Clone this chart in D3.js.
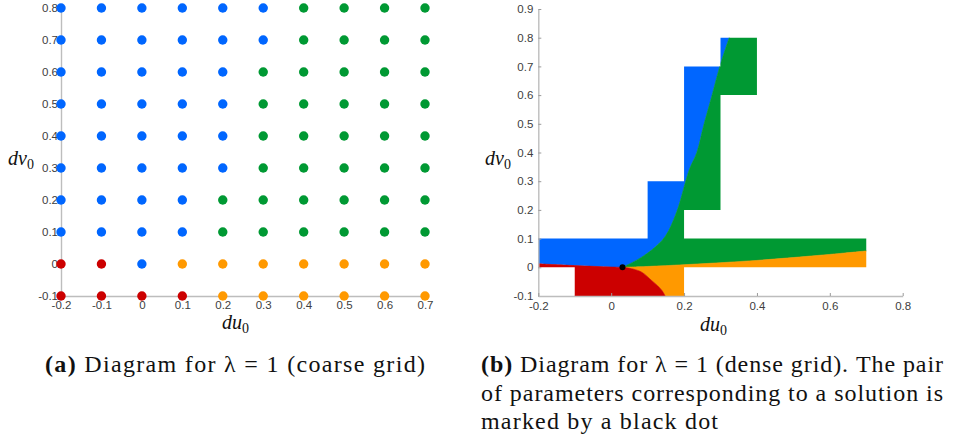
<!DOCTYPE html>
<html>
<head>
<meta charset="utf-8">
<script src="https://cdn.jsdelivr.net/npm/d3@7"></script>
<style>
  body { margin: 0; background: #fff; }
</style>
</head>
<body>
<div id="chart"></div>
<script>
// Data
const duValues = [-0.2, -0.1, 0, 0.1, 0.2, 0.3, 0.4, 0.5, 0.6, 0.7]
const dvValues = [0.8, 0.7, 0.6, 0.5, 0.4, 0.3, 0.2, 0.1, 0, -0.1]
// outcome of each coarse grid point, one string per dv row (B blue, G green, R red, O orange)
const coarseClasses = [
  'BBBBBBGGGG',
  'BBBBBBGGGG',
  'BBBBBGGGGG',
  'BBBBBGGGGG',
  'BBBBBGGGGG',
  'BBBBBGGGGG',
  'BBBBGGGGGG',
  'BBBBGGGGGG',
  'RRBOOOOOOO',
  'RRRROOOOOO',
]
const leftXTicks = [-0.2, -0.1, 0, 0.1, 0.2, 0.3, 0.4, 0.5, 0.6, 0.7]
const leftYTicks = [-0.1, 0, 0.1, 0.2, 0.3, 0.4, 0.5, 0.6, 0.7, 0.8]
const rightXTicks = [-0.2, 0, 0.2, 0.4, 0.6, 0.8]
const rightYTicks = [-0.1, 0, 0.1, 0.2, 0.3, 0.4, 0.5, 0.6, 0.7, 0.8, 0.9]

// dense grid: sampled rectangles [du0, du1, dv0, dv1]
const denseRects = [
  [-0.2, 0.7, 0, 0.1],
  [-0.1, 0.2, -0.1, 0],
  [0.1, 0.2, 0.1, 0.3],
  [0.2, 0.3, 0.2, 0.7],
  [0.3, 0.4, 0.6, 0.8],
]
// region boundaries, [du, dv]
const redBlueEdge = [[-0.2, 0.012], [-0.1, 0.006], [0, 0.001], [0.031, 0]]
const blueGreenEdge = [[0.031, 0], [0.07, 0.025], [0.111, 0.06], [0.148, 0.107], [0.18, 0.194],
  [0.214, 0.339], [0.235, 0.4], [0.255, 0.5], [0.277, 0.6], [0.298, 0.7], [0.324, 0.8]]
const greenOrangeEdge = [[0.031, 0], [0.1, 0.003], [0.2, 0.009], [0.3, 0.016], [0.4, 0.024],
  [0.5, 0.034], [0.6, 0.045], [0.7, 0.057]]
const redOrangeEdge = [[0.031, 0], [0.06, -0.006], [0.085, -0.018], [0.11, -0.045],
  [0.128, -0.065], [0.14, -0.082], [0.148, -0.1]]
const solution = [0.031, 0]

const colors = { B: '#0066ff', G: '#009933', R: '#cc0000', O: '#ff9900' }
const axisGrey = '#bdbdbd'
const sans = '"Liberation Sans", Arial, sans-serif'
const serif = '"Liberation Serif", "Times New Roman", serif'
const fmt = d => String(+d.toFixed(1))

const svg = d3.select('#chart')
  .append('svg')
  .attr('width', 953)
  .attr('height', 437)

const styleAxis = (a, tickStroke) => {
  a.attr('font-family', null).attr('font-size', null)
  a.selectAll('.tick text').style('font-family', sans).style('font-size', '11.5px').attr('fill', '#404040')
  a.select('.domain').attr('stroke', axisGrey).attr('stroke-width', 1.4)
  a.selectAll('.tick line').attr('stroke', tickStroke)
}

const subLabel = (g, x, y, name) => {
  const t = g.append('text').attr('x', x).attr('y', y)
    .style('font-family', serif).style('font-size', '20px').attr('fill', '#111')
  t.append('tspan').style('font-style', 'italic').text(name)
  t.append('tspan').style('font-size', '14px').attr('dy', 4).text('0')
}

// ---------- (a) coarse grid ----------
const xL = d3.scaleLinear().domain([-0.2, 0.7]).range([61, 425])
const yL = d3.scaleLinear().domain([-0.1, 0.8]).range([296, 8])

const left = svg.append('g')

left.append('g')
  .attr('transform', `translate(${xL(-0.2)},0)`)
  .call(d3.axisLeft(yL).tickValues(leftYTicks).tickFormat(fmt).tickSize(0).tickPadding(3))
  .call(a => styleAxis(a, 'none'))
left.append('g')
  .attr('transform', `translate(0,${yL(-0.1)})`)
  .call(d3.axisBottom(xL).tickValues(leftXTicks).tickFormat(fmt).tickSize(0).tickPadding(5))
  .call(a => styleAxis(a, 'none'))

const points = []
dvValues.forEach((dv, i) => duValues.forEach((du, j) => points.push({ du, dv, c: coarseClasses[i][j] })))

left.append('g')
  .selectAll('circle')
  .data(points)
  .join('circle')
  .attr('cx', d => xL(d.du))
  .attr('cy', d => yL(d.dv))
  .attr('r', 4.7)
  .attr('fill', d => colors[d.c])

subLabel(left, 8, 165, 'dv')
subLabel(left, 222, 329, 'du')

// ---------- (b) dense grid ----------
const xR = d3.scaleLinear().domain([-0.2, 0.8]).range([538.3, 902.7])
const yR = d3.scaleLinear().domain([-0.1, 0.9]).range([296, 9])

const right = svg.append('g')

right.append('clipPath')
  .attr('id', 'dense-clip')
  .selectAll('rect')
  .data(denseRects)
  .join('rect')
  .attr('x', d => xR(d[0]))
  .attr('width', d => xR(d[1]) - xR(d[0]))
  .attr('y', d => yR(d[3]))
  .attr('height', d => yR(d[2]) - yR(d[3]))

// a region outline is a list of pieces: smooth boundary curves or straight corner runs
const smooth = d3.line().x(d => xR(d[0])).y(d => yR(d[1])).curve(d3.curveCatmullRom.alpha(0.5))
const rev = a => a.slice().reverse()
const outline = pieces => pieces.map((p, i) => {
  if (!p.curve) return p.pts.map(d => `L${xR(d[0])},${yR(d[1])}`).join('')
  const s = smooth(p.pts)
  return i === 0 ? s : 'L' + s.slice(1)
}).join('') + 'Z'

const regions = [
  { c: 'B', pieces: [{ curve: true, pts: redBlueEdge }, { curve: true, pts: blueGreenEdge },
    { pts: [[0.324, 0.9], [-0.2, 0.9]] }] },
  { c: 'G', pieces: [{ curve: true, pts: blueGreenEdge }, { pts: [[0.324, 0.9], [0.8, 0.9], [0.8, 0.057]] },
    { curve: true, pts: rev(greenOrangeEdge) }] },
  { c: 'O', pieces: [{ curve: true, pts: greenOrangeEdge }, { pts: [[0.8, 0.057], [0.8, -0.1]] },
    { curve: true, pts: rev(redOrangeEdge) }] },
  { c: 'R', pieces: [{ curve: true, pts: redOrangeEdge }, { pts: [[-0.2, -0.1]] },
    { curve: true, pts: redBlueEdge }] },
]

right.append('g')
  .attr('clip-path', 'url(#dense-clip)')
  .selectAll('path')
  .data(regions)
  .join('path')
  .attr('d', d => outline(d.pieces))
  .attr('fill', d => colors[d.c])
  .attr('stroke', d => colors[d.c])
  .attr('stroke-width', 0.6)

right.append('circle')
  .attr('cx', xR(solution[0]))
  .attr('cy', yR(solution[1]))
  .attr('r', 3)
  .attr('fill', '#000')

right.append('g')
  .attr('transform', `translate(${xR(-0.2)},0)`)
  .call(d3.axisLeft(yR).tickValues(rightYTicks).tickFormat(fmt).tickSizeInner(-3).tickSizeOuter(0).tickPadding(5))
  .call(a => styleAxis(a, '#9a9a9a'))
right.append('g')
  .attr('transform', `translate(0,${yR(-0.1)})`)
  .call(d3.axisBottom(xR).tickValues(rightXTicks).tickFormat(fmt).tickSizeInner(-3).tickSizeOuter(0).tickPadding(6))
  .call(a => styleAxis(a, '#9a9a9a'))

subLabel(right, 700, 331, 'du')
subLabel(right, 485, 165, 'dv')

// ---------- captions ----------
const caption = (x, y, bold, rest, len) => {
  const t = svg.append('text').attr('x', x).attr('y', y)
    .style('font-family', serif).style('font-size', '24px').attr('fill', '#111')
  if (len) t.attr('textLength', len).attr('lengthAdjust', 'spacing')
  if (bold) t.append('tspan').style('font-weight', 'bold').text(bold)
  t.append('tspan').text(rest)
}
caption(45, 372, '(a)', ' Diagram for λ = 1 (coarse grid)', 380)
caption(481, 372, '(b)', ' Diagram for λ = 1 (dense grid). The pair', 462)
caption(481, 401, null, 'of parameters corresponding to a solution is', 462)
caption(481, 429, null, 'marked by a black dot', 237)
</script>
</body>
</html>
